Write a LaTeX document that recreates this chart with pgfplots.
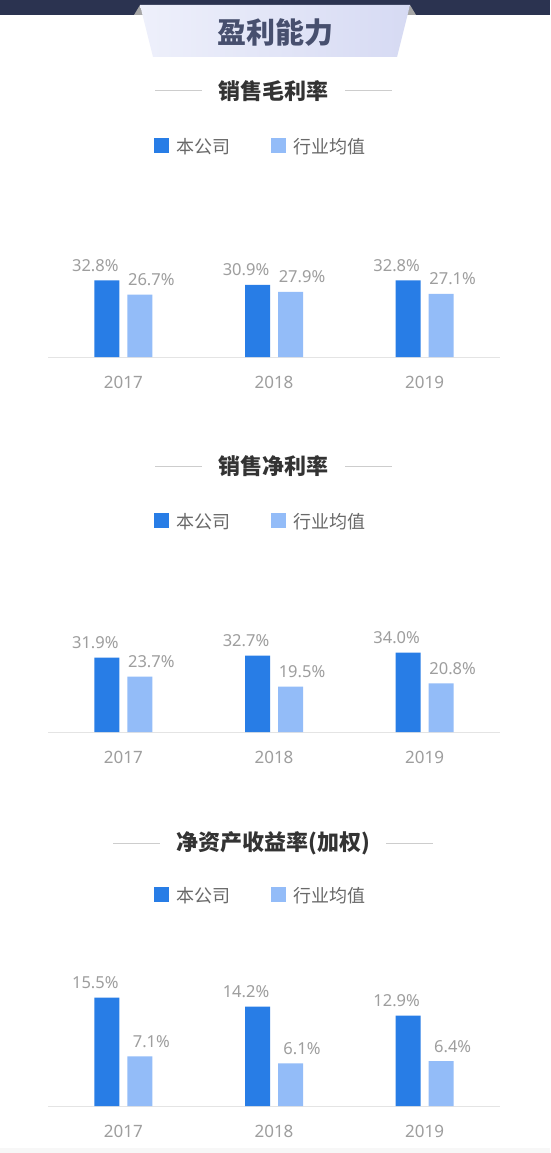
\documentclass[border=0pt]{standalone}
\usepackage{fontspec}
\setmainfont{Noto Sans}
\newfontfamily\cjk{Noto Sans CJK SC}
\usepackage{pgfplots}
\pgfplotsset{compat=1.18}
\definecolor{cblue}{RGB}{40,125,230}
\definecolor{clight}{RGB}{147,188,248}
\definecolor{valgray}{RGB}{158,158,158}
\definecolor{legendgray}{RGB}{105,105,105}
\definecolor{titlegray}{RGB}{51,51,51}
\definecolor{linegray}{RGB}{205,205,205}
\definecolor{axisgray}{RGB}{228,228,228}
\definecolor{navy}{RGB}{43,51,80}
\definecolor{headtext}{RGB}{71,79,110}
\definecolor{headL}{RGB}{238,240,251}
\definecolor{headR}{RGB}{214,218,243}
\pgfplotsset{
  mychart/.style={
    scale only axis, width=452pt, height=140pt, anchor=south west,
    xmin=-0.5, xmax=2.5, ymin=0,
    axis y line=none, axis x line=bottom,
    x axis line style={draw=axisgray, line width=1pt, -},
    xtick={0,1,2}, xticklabels={2017,2018,2019}, major tick length=0pt,
    xticklabel style={font=\fontsize{17}{17}\selectfont, text=valgray, anchor=base, yshift=-31pt, inner sep=0pt},
    ybar=8pt, bar width=25pt,
    point meta=explicit symbolic, nodes near coords,
    every node near coord/.append style={font=\fontsize{16.5}{16.5}\selectfont, text=valgray, anchor=base, inner sep=0pt, yshift=9pt},
    legend columns=2,
    legend cell align=left,
    legend image code/.code={\fill[##1] (0pt,-6pt) rectangle (15pt,9pt);},
    legend style={at={(0.2345,1.504)}, anchor=west, draw=none, fill=none, inner sep=0pt,
      font=\cjk\fontsize{18}{18}\selectfont, text=legendgray,
      nodes={inner sep=0pt},
      /tikz/every even column/.append style={column sep=41pt},
      /tikz/every odd column/.append style={column sep=7pt}},
    clip=false,
  },
  blueplot/.style={fill=cblue, draw=none, every node near coord/.append style={xshift=-11.5pt}},
  lightplot/.style={fill=clight, draw=none, every node near coord/.append style={xshift=11.5pt}},
}
\newcommand{\sectitle}[4]{% y, text, left line start, right line start
  \node[text=titlegray, font=\cjk\bfseries\fontsize{22}{22}\selectfont] at (273pt,-#1pt) {#2};
  \draw[linegray, line width=1pt] (#3pt,-#1pt) -- ++(47pt,0);
  \draw[linegray, line width=1pt] (#4pt,-#1pt) -- ++(47pt,0);
}
\begin{document}
\begin{tikzpicture}
% background
\fill[white] (0pt,0pt) rectangle (550pt,-1153pt);
\fill[black!3] (0pt,-1148pt) rectangle (550pt,-1153pt);
% header
\fill[navy] (0pt,0pt) rectangle (550pt,-15pt);
\fill[black!35] (134pt,-15pt) -- (140pt,-5pt) -- (143pt,-15pt) -- cycle;
\fill[black!35] (416pt,-15pt) -- (410pt,-5pt) -- (407pt,-15pt) -- cycle;
\shade[left color=headL, right color=headR] (140pt,-5pt) -- (410pt,-5pt) -- (397pt,-57pt) -- (153pt,-57pt) -- cycle;
\node[text=headtext, font=\cjk\bfseries\fontsize{29}{29}\selectfont] at (275pt,-33pt) {盈利能力};
% section titles
\sectitle{91}{销售毛利率}{155}{345}
\sectitle{466}{销售净利率}{155}{345}
\sectitle{843}{净资产收益率(加权)}{113}{386}

% chart 1
\begin{axis}[mychart, at={(48pt,-357pt)}, ymax=60]
\addplot[blueplot] coordinates {(0,32.8) [32.8\%] (1,30.9) [30.9\%] (2,32.8) [32.8\%]};
\addplot[lightplot] coordinates {(0,26.7) [26.7\%] (1,27.9) [27.9\%] (2,27.1) [27.1\%]};
\legend{本公司,行业均值}
\end{axis}

% chart 2
\begin{axis}[mychart, at={(48pt,-732pt)}, ymax=60]
\addplot[blueplot] coordinates {(0,31.9) [31.9\%] (1,32.7) [32.7\%] (2,34.0) [34.0\%]};
\addplot[lightplot] coordinates {(0,23.7) [23.7\%] (1,19.5) [19.5\%] (2,20.8) [20.8\%]};
\legend{本公司,行业均值}
\end{axis}

% chart 3
\begin{axis}[mychart, at={(48pt,-1106pt)}, ymax=20]
\addplot[blueplot] coordinates {(0,15.5) [15.5\%] (1,14.2) [14.2\%] (2,12.9) [12.9\%]};
\addplot[lightplot] coordinates {(0,7.1) [7.1\%] (1,6.1) [6.1\%] (2,6.4) [6.4\%]};
\legend{本公司,行业均值}
\end{axis}
\end{tikzpicture}
\end{document}
